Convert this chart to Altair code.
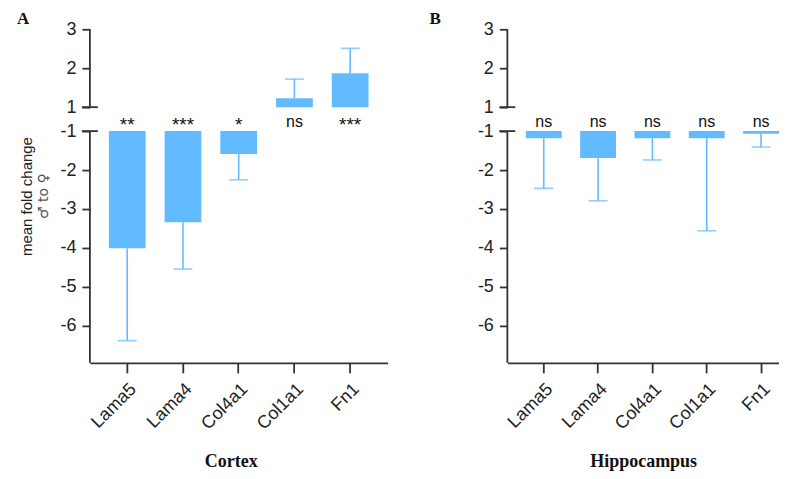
import altair as alt
import pandas as pd

genes = ["Lama5", "Lama4", "Col4a1", "Col1a1", "Fn1"]
cortex_mean = [-4.01, -3.34, -1.59, 1.23, 1.87]
cortex_err = [-6.38, -4.54, -2.25, 1.72, 2.51]
cortex_sig = ["**", "***", "*", "ns", "***"]
hippo_mean = [-1.18, -1.69, -1.18, -1.18, -1.07]
hippo_err = [-2.47, -2.79, -1.74, -3.56, -1.41]
hippo_sig = ["ns", "ns", "ns", "ns", "ns"]
y_ticks = [3, 2, 1, -1, -2, -3, -4, -5, -6]
axis_top = [3, -1]
axis_bottom = [1, -6.95]
break_ends = [1, -1]
ytitle_line2 = ["♂ to ♀"]

BLUE = "#63BBFF"
AXC = "#333333"
GAP = 0.615


def dval(v):
    return v - 1 + GAP if v > 0 else v + 1


def dexpr(f):
    return f"datum.{f} > 0 ? datum.{f} - 1 + {GAP} : datum.{f} + 1"


DOMAIN = [dval(min(axis_bottom)), dval(max(axis_top))]
HEIGHT = 334


def panel(mean, err, sig, letter, letter_dx, xtitle, xtitle_x, width, ytitle, xscale):
    df = pd.DataFrame({"gene": genes, "mean": mean, "err": err, "sig": sig})
    base = alt.Chart(df).transform_calculate(
        base="datum.mean > 0 ? 1 : -1"
    ).transform_calculate(
        d_mean=dexpr("mean"), d_err=dexpr("err"), d_base=dexpr("base"), d_lab="0"
    )
    yaxis = alt.Axis(
        values=[dval(t) for t in y_ticks],
        labelExpr=f"datum.value > 0.3 ? round(datum.value + 1 - {GAP}) : round(datum.value - 1)",
        domain=False, grid=False, tickSize=8, tickColor=AXC, tickWidth=1.8,
        labelFont="Liberation Sans", labelFontSize=18, labelColor="#222",
        labelPadding=6,
        titleFont="Liberation Sans", titleFontSize=15, titleFontWeight="normal",
        titleColor="#222", titlePadding=25,
    )
    ysc = alt.Scale(domain=DOMAIN, nice=False, zero=False)

    def Y(f):
        return alt.Y(f"{f}:Q", scale=ysc, axis=yaxis, title=ytitle)

    xaxis_kw = dict(
        labelAngle=-45, labelFont="Liberation Sans", labelFontSize=18,
        labelColor="#222", tickSize=10, tickColor=AXC, tickWidth=1.8,
        domainColor=AXC, domainWidth=1.8, labelPadding=7,
        titleFont="Liberation Serif", titleFontSize=18, titleFontWeight="bold",
        titleColor="#111", titlePadding=20,
    )
    if xtitle_x is not None:
        xaxis_kw["titleX"] = xtitle_x
    xaxis = alt.Axis(**xaxis_kw)
    X = alt.X("gene:N", sort=genes, scale=xscale, axis=xaxis, title=xtitle)

    bars = base.mark_bar(color=BLUE).encode(x=X, y=Y("d_base"), y2="d_mean:Q")
    rule = base.mark_rule(color=BLUE, strokeWidth=1.6).encode(
        x=X, y=Y("d_mean"), y2="d_err:Q")
    cap = base.mark_tick(color=BLUE, size=19, thickness=1.6).encode(
        x=X, y=Y("d_err"))
    text_ns = base.transform_filter("datum.sig == 'ns'").mark_text(
        font="Liberation Sans", fontSize=16, color="#111", baseline="alphabetic",
        dy=-4).encode(x=X, y=Y("d_lab"), text="sig:N")
    text_star = base.transform_filter("datum.sig != 'ns'").mark_text(
        font="Liberation Sans", fontSize=19, color="#111", baseline="alphabetic",
        dy=0).encode(x=X, y=Y("d_lab"), text="sig:N")

    adf = pd.DataFrame({"a": axis_top, "b": axis_bottom})
    axis_line = alt.Chart(adf).transform_calculate(
        da=dexpr("a"), db=dexpr("b")
    ).mark_rule(color=AXC, strokeWidth=1.8).encode(
        x=alt.value(0), y=Y("da"), y2="db:Q")
    bdf = pd.DataFrame({"v": break_ends})
    caps = alt.Chart(bdf).transform_calculate(dv=dexpr("v")).mark_rule(
        color=AXC, strokeWidth=1.8).encode(
        x=alt.value(-8), x2=alt.value(8), y=Y("dv"))

    layers = [bars, rule, cap, text_ns, text_star, axis_line, caps]
    if ytitle is not None:
        t2 = alt.Chart(pd.DataFrame({"t": ytitle_line2})).mark_text(
            angle=270, font="DejaVu Sans", fontSize=14, color="#555",
            baseline="middle").encode(
            text="t:N", x=alt.value(-46), y=alt.value(HEIGHT / 2))
        layers.append(t2)

    return alt.layer(*layers).properties(
        width=width, height=HEIGHT,
        title=alt.TitleParams(letter, anchor="start", frame="group", dx=letter_dx,
                              dy=10, font="Liberation Serif",
                              fontSize=17, fontWeight="bold", color="#111", offset=2),
    )


a = panel(cortex_mean, cortex_err, cortex_sig, "A", -73, "Cortex", 141, 298,
          "mean fold change",
          alt.Scale(paddingInner=0.34, paddingOuter=0.34))
b = panel(hippo_mean, hippo_err, hippo_sig, "B", -78, "Hippocampus", None, 272, None,
          alt.Scale(paddingInner=0.34, paddingOuter=0.17, align=1))

chart = alt.hconcat(a, b, spacing=42).properties(
    padding={"left": 9, "top": 2, "right": 0, "bottom": 0}
).configure_view(stroke=None)

chart.save("out.html", embed_options={"renderer": "svg", "actions": False})
